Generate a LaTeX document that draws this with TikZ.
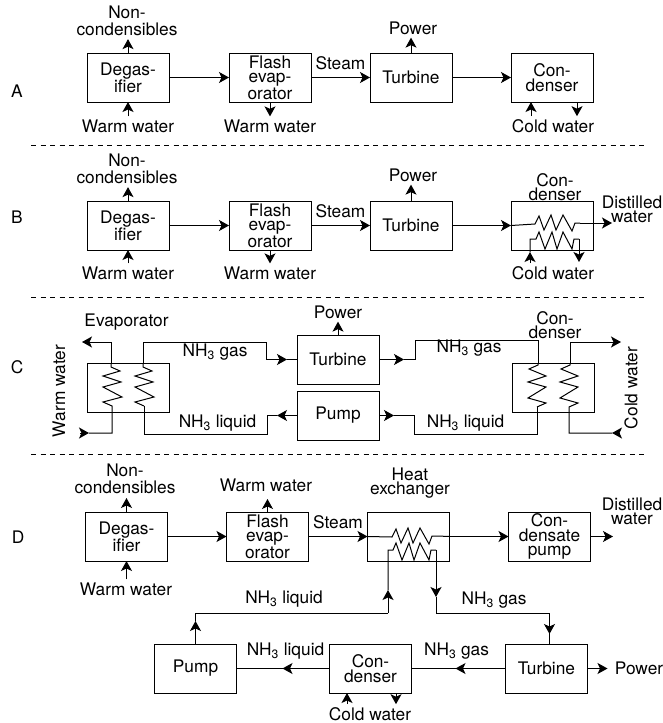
\documentclass[tikz,border=0pt]{standalone}
\usepackage{fontspec}
\setmainfont{TeX Gyre Heros}
\usepackage{tikz}
\usetikzlibrary{arrows.meta,positioning}

\newcommand{\nhgas}{NH\textsubscript{3} gas}
\newcommand{\nhliq}{NH\textsubscript{3} liquid}

\begin{document}
\begin{tikzpicture}[
  x=1pt, y=-1pt,
  node distance=59pt and 59pt,
  unit/.style={rectangle, draw, line width=1pt, minimum width=82pt, minimum height=49pt, inner sep=0pt, outer sep=0pt, align=center, font=\fontsize{17.3}{17}\selectfont},
  tight/.style={font=\fontsize{17.3}{14.5}\selectfont},
  low/.style={text depth=-3pt},
  lbl/.style={inner sep=3pt, align=center, font=\fontsize{17.3}{17}\selectfont},
  lbltight/.style={lbl, font=\fontsize{17.3}{14}\selectfont},
  pipe/.style={line width=1pt},
  flow/.style={pipe, -{Stealth[length=10pt, width=11pt, inset=2.5pt]}},
  divider/.style={line width=0.9pt, dash pattern=on 5pt off 4.5pt},
  coilup/.style={insert path={-- ++(0,4) -- ++(9,4) -- ++(-17,5) -- ++(18,6) -- ++(-18,5) -- ++(19,10) -- ++(-19,5) -- ++(9,4)}},
  coildown/.style={insert path={-- ++(0,2) -- ++(-9,4) -- ++(17,7) -- ++(-18,6) -- ++(18,5) -- ++(-18,11) -- ++(18,5) -- ++(-9,4)}},
  coiltop/.style={insert path={-- ++(4,-8) -- ++(5,14) -- ++(7,-15) -- ++(5,15) -- ++(7,-15) -- ++(9,16) -- ++(3,-8) -- ++(5,0)}},
  coilbot/.style={insert path={-- ++(3,-7) -- ++(6,17) -- ++(7,-17) -- ++(5,17) -- ++(6,-17) -- ++(9,17) -- ++(2,-10) -- ++(5,0)}},
]
\useasboundingbox (0,0) rectangle (663,723);

%% --- Row A ---
\node[lbl] (letA) at (17,91) {A};
\node[unit] (degA) at (128,77.5) {Degas-\\ifier};
\node[unit, tight, low, right=60pt of degA] (flashA) {Flash\\evap-\\orator};
\node[unit, right=of flashA] (turbA) {Turbine};
\node[unit, tight, low, right=of turbA] (condA) {Con-\\denser};
\node[lbl] (nonA) at (127,21) {Non-\\condensibles};
\node[lbl] (wwA) at (128,126) {Warm water};
\node[lbl] (wwoA) at (270,126) {Warm water};
\node[lbl] (powA) at (413,28) {Power};
\node[lbl] (cwA) at (553,126) {Cold water};
\coordinate (cwinA) at ([xshift=-21pt]condA.south);
\coordinate (cwoutA) at ([xshift=25pt]condA.south);

\draw[flow] (degA.north) -- (degA.north |- nonA.south);
\draw[flow] (degA.south |- wwA.north) -- (degA.south);
\draw[flow] (flashA.south) -- (flashA.south |- wwoA.north);
\draw[flow] (degA) -- (flashA);
\draw[flow] (flashA) -- node[lbl, above=4pt] (stmA) {Steam} (turbA);
\draw[flow] (turbA.north) -- (turbA.north |- powA.south);
\draw[flow] (turbA) -- (condA);
\draw[flow] (cwinA |- cwA.north) -- (cwinA);
\draw[flow] (cwoutA) -- (cwoutA |- cwA.north);

\draw[divider] (31,145) coordinate (divAl) -- (645,145) coordinate (divAr);

%% --- Row B ---
\node[lbl] (letB) at (17,217) {B};
\node[unit, below=99pt of degA] (degB) {Degas-\\ifier};
\node[unit, tight, low, right=60pt of degB] (flashB) {Flash\\evap-\\orator};
\node[unit, right=of flashB] (turbB) {Turbine};
\node[unit, right=of turbB] (condB) {};
\node[lbl] (nonB) at (127,169) {Non-\\condensibles};
\node[lbl] (wwB) at (128,273) {Warm water};
\node[lbl] (wwoB) at (270,273) {Warm water};
\node[lbl] (powB) at (413,175) {Power};
\node[lbltight] (cnameB) at (555,187) {Con-\\denser};
\node[lbltight] (dwB) at (632,209) {Distilled\\water};
\node[lbl] (cwB) at (553,273) {Cold water};
\coordinate (coilinB) at (535,224);
\coordinate (coiloutB) at (580,223);
\coordinate (cwinB) at (530,239);
\coordinate (cwoutB) at (579,239);

\draw[flow] (degB.north) -- (degB.north |- nonB.south);
\draw[flow] (degB.south |- wwB.north) -- (degB.south);
\draw[flow] (flashB.south) -- (flashB.south |- wwoB.north);
\draw[flow] (degB) -- (flashB);
\draw[flow] (flashB) -- node[lbl, above=4pt] (stmB) {Steam} (turbB);
\draw[flow] (turbB.north) -- (turbB.north |- powB.south);
\draw[flow] (turbB) -- (condB.west);
\draw[pipe] (condB.west) -- (coilinB) [coiltop];
\draw[flow] (coiloutB) -- ([xshift=32pt]coiloutB);
\draw[pipe] ([yshift=-13pt]cwinB) -- (cwinB) -- ++(6,0) [coilbot];
\draw[flow] (cwinB |- cwB.north) -- ([yshift=-13pt]cwinB);
\draw[flow] (cwoutB) -- ([yshift=-23pt]cwoutB);

\draw[divider] (31,297) coordinate (divBl) -- (645,297) coordinate (divBr);

%% --- Row C ---
\node[lbl] (letC) at (17,367) {C};
\node[unit] (evapC) at (128,387.5) {};
\node[unit] (turbC) at (338,359.5) {Turbine};
\node[unit, below=7pt of turbC] (pumpC) {Pump};
\node[unit] (condC) at (553.5,387.5) {};
\node[lbl] (evnameC) at (126.5,322) {Evaporator};
\node[lbl, rotate=90] (wwC) at (59,391) {Warm water};
\node[lbl] (powC) at (338,312) {Power};
\node[lbl] (gasLC) at (215,352) {\nhgas};
\node[lbl] (liqLC) at (217.5,423) {\nhliq};
\node[lbl] (gasRC) at (469,348) {\nhgas};
\node[lbl] (liqRC) at (465.5,423) {\nhliq};
\node[lbltight] (cnameC) at (555,325) {Con-\\denser};
\node[lbl, rotate=90] (cwC) at (631,388) {Cold water};
\coordinate (evLC) at (111,363);
\coordinate (evRC) at (143,363);
\coordinate (evRbC) at (144,406);
\coordinate (wwoutC) at (82,342);
\coordinate (wwinC) at (80,433);
\coordinate (gasaC) at (266,342);
\coordinate (liqaC) at (267,434);
\coordinate (gasbC) at (415,340);
\coordinate (liqbC) at (414,434);
\coordinate (coLC) at (538,363);
\coordinate (coRC) at (570,363);
\coordinate (coLbC) at (537,407);
\coordinate (cwoutC) at (621,342);
\coordinate (cwinC) at (620,433);

\draw[flow] (turbC.north) -- (turbC.north |- powC.south);
\draw[flow] (evLC) |- (wwoutC);
\draw[flow] (wwinC) -- ([xshift=9pt]wwinC);
\draw[pipe] (evLC) [coilup] |- ([xshift=9pt]wwinC);
\draw[pipe] (evRC) |- (gasaC) -- (gasaC |- turbC.west);
\draw[flow] (gasaC |- turbC.west) -- ([xshift=-10pt]turbC.west);
\draw[pipe] ([xshift=-10pt]turbC.west) -- (turbC.west);
\draw[pipe] (evRC) [coilup];
\draw[flow] (pumpC.west) -- ([xshift=-20pt]pumpC.west);
\draw[pipe] ([xshift=-20pt]pumpC.west) -| (liqaC) -| (evRbC);
\draw[flow] (turbC.east) -- ([xshift=25pt]turbC.east);
\draw[pipe] ([xshift=25pt]turbC.east) -| (gasbC) -| (coLC);
\draw[pipe] (coLC) [coildown];
\draw[flow] (pumpC.east) -- ([xshift=15pt]pumpC.east);
\draw[pipe] ([xshift=15pt]pumpC.east) -| (liqbC) -| (coLbC);
\draw[flow] (coRC) |- (cwoutC);
\draw[flow] (cwinC) -- ([xshift=-8pt]cwinC);
\draw[pipe] (coRC) [coildown] |- ([xshift=-8pt]cwinC);

\draw[divider] (31,454) coordinate (divCl) -- (645,454) coordinate (divCr);

%% --- Row D ---
\node[lbl] (letD) at (18,537) {D};
\node[unit] (degD) at (126.5,536.5) {Degas-\\ifier};
\node[unit, tight, low, right=59pt of degD] (flashD) {Flash\\evap-\\orator};
\node[unit, right=59pt of flashD] (hxD) {};
\node[unit, tight, right=59pt of hxD] (cpD) {Con-\\densate\\pump};
\node[unit] (pumpD) at (195.5,668.5) {Pump};
\node[unit, tight, low, right=93pt of pumpD] (condD) {Con-\\denser};
\node[unit, right=94pt of condD] (turbD) {Turbine};
\node[lbl] (nonD) at (125,479) {Non-\\condensibles};
\node[lbl] (wwD) at (126,589) {Warm water};
\node[lbl] (wwoD) at (266,485) {Warm water};
\node[lbltight] (hxnameD) at (410,483) {Heat\\exchanger};
\node[lbltight] (dwD) at (632,511) {Distilled\\water};
\node[lbl] (liqaD) at (284,599) {\nhliq};
\node[lbl] (gasaD) at (494,600) {\nhgas};
\node[lbl] (liqbD) at (285.5,651) {\nhliq};
\node[lbl] (gasbD) at (456.5,651) {\nhgas};
\node[lbl] (powD) at (639,668) {Power};
\node[lbl] (cwD) at (370,714) {Cold water};
\coordinate (coilinD) at (392,537);
\coordinate (hxinD) at (388,550);
\coordinate (hxoutD) at (436,550);
\coordinate (liqcD) at (388,613);
\coordinate (gascD) at (436,613);
\coordinate (turbinD) at ([xshift=3pt]turbD.north);
\coordinate (cwinD) at (347,693);
\coordinate (cwoutD) at (396,693);
\coordinate (dwoutD) at (613,536.5);

\draw[flow] (degD.north) -- ([yshift=14pt]degD.north);
\draw[flow] (degD.south |- wwD.north) -- (degD.south);
\draw[flow] (flashD.north) -- ([yshift=13pt]flashD.north);
\draw[flow] (degD) -- (flashD);
\draw[flow] (flashD) -- node[lbl, above=4pt] (stmD) {Steam} (hxD);
\draw[pipe] (hxD.west) -- (coilinD) [coiltop] -- (hxD.east);
\draw[flow] (hxD.east) -- (cpD.west);
\draw[flow] (cpD.east) -- (dwoutD);
\draw[flow] (pumpD.north) -- ([yshift=23pt]pumpD.north);
\draw[pipe] ([yshift=23pt]pumpD.north) |- (liqcD);
\draw[flow] (liqcD) -- ([yshift=23pt]liqcD);
\draw[pipe] ([yshift=23pt]liqcD) -- (hxinD) -- ++(5,0) [coilbot];
\draw[flow] (hxoutD) -- ([yshift=-47pt]hxoutD);
\draw[pipe] ([yshift=-47pt]hxoutD) -- (gascD) -| ([yshift=10pt]turbinD);
\draw[flow] (gascD -| turbinD) -- ([yshift=10pt]turbinD);
\draw[pipe] ([yshift=10pt]turbinD) -- (turbinD);
\draw[flow] (turbD.west) -- ([xshift=-50pt]turbD.west);
\draw[pipe] ([xshift=-50pt]turbD.west) -- (condD.east);
\draw[flow] (condD.west) -- ([xshift=-47pt]condD.west);
\draw[pipe] ([xshift=-47pt]condD.west) -- (pumpD.east);
\draw[flow] (turbD.east) -- ([xshift=20pt]turbD.east);
\draw[flow] (cwinD |- cwD.north) -- (cwinD);
\draw[flow] (cwoutD) -- (cwoutD |- cwD.north);
\end{tikzpicture}
\end{document}
